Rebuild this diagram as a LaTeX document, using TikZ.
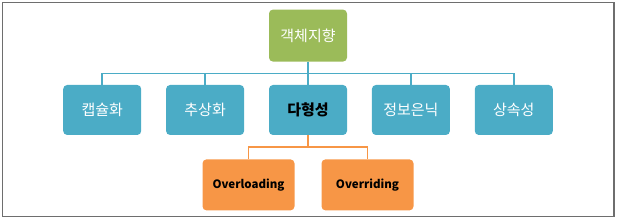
\documentclass[tikz,border=0pt]{standalone}
\usepackage{fontspec}
\setmainfont{Noto Sans CJK KR}
\usetikzlibrary{positioning}
\definecolor{ogreen}{HTML}{9BBB59}
\definecolor{oblue}{HTML}{4BACC6}
\definecolor{oorange}{HTML}{F79646}
\definecolor{framegray}{HTML}{6E6E6E}

\begin{document}
\begin{tikzpicture}[
  node distance=23pt and 24.5pt,
  box/.style={rounded corners=4pt, minimum height=50pt, minimum width=78pt, align=center, inner sep=0pt, font=\fontsize{15}{18}\selectfont, text=white},
  subbox/.style={box, fill=oorange, minimum width=92pt, minimum height=51pt, text=black, font=\fontsize{11.5}{14}\selectfont\bfseries},
  conn/.style={line width=1.5pt, draw=oblue},
  oconn/.style={line width=1.5pt, draw=oorange}
]
\useasboundingbox (0,0) rectangle (619pt,221pt);
\draw[framegray, line width=1.5pt] (2.5pt,4.5pt) rectangle (614pt,218.5pt);

\node[box, fill=oblue, text=black, font=\fontsize{15}{18}\selectfont\bfseries] (poly) at (308pt,111pt) {다형성};
\node[box, fill=oblue, left=of poly] (abstr) {추상화};
\node[box, fill=oblue, left=of abstr] (encap) {캡슐화};
\node[box, fill=oblue, right=of poly] (hiding) {정보은닉};
\node[box, fill=oblue, right=of hiding] (inherit) {상속성};
\node[box, fill=ogreen, minimum height=52pt, above=of poly] (oop) {객체지향};

\node[subbox, below=24pt of poly, xshift=-59.5pt] (overload) {Overloading};
\node[subbox, below=24pt of poly, xshift=59.5pt] (override) {Overriding};

% blue tree
\foreach \n in {encap,abstr,poly,hiding,inherit}
  \draw[conn] (oop.south) -- ++(0,-11.5pt) -| (\n.north);
% orange tree
\draw[oconn] (poly.south) -- ++(0,-12pt) -| (overload.north);
\draw[oconn] (poly.south) -- ++(0,-12pt) -| (override.north);
\end{tikzpicture}
\end{document}
